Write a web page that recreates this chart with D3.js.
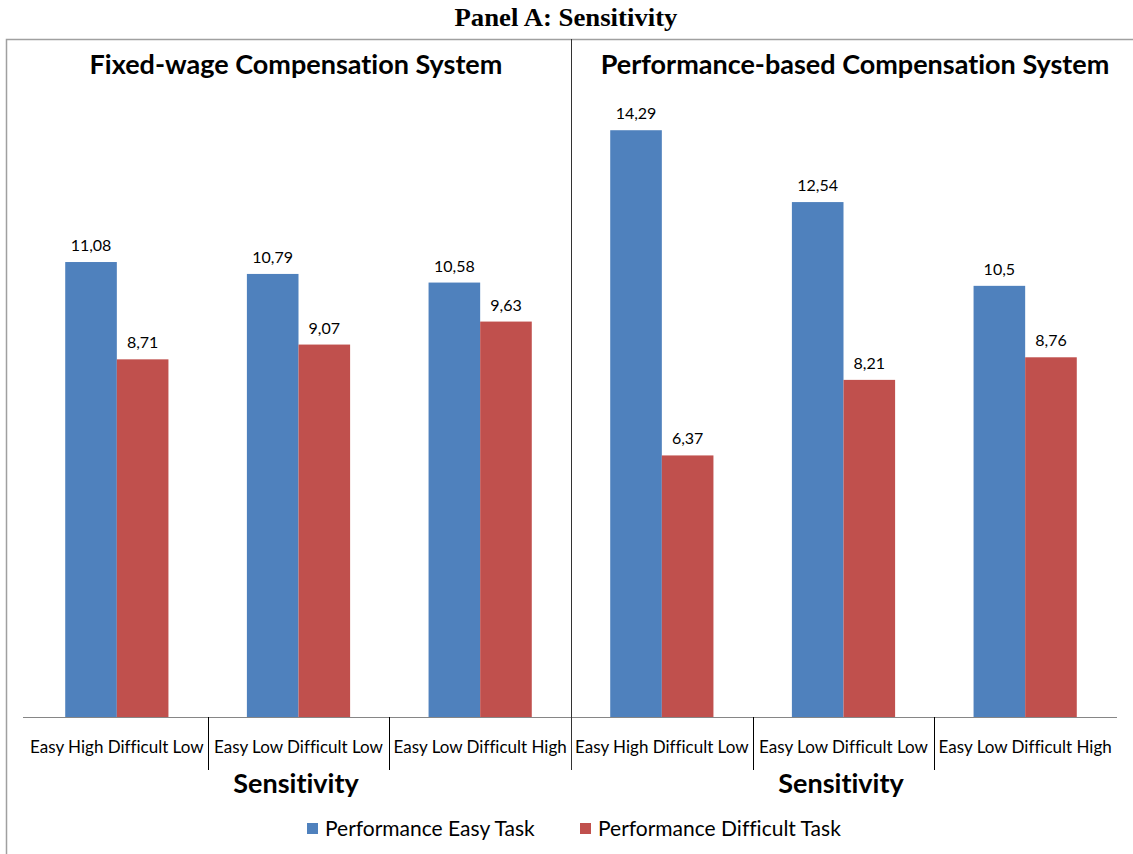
<!DOCTYPE html>
<html>
<head>
<meta charset="utf-8">
<script src="https://cdn.jsdelivr.net/npm/d3@7"></script>
<style>
  body { margin: 0; background: #fff; }
  text { font-family: Lato, "Open Sans", sans-serif; fill: #000; font-variant-ligatures: none; }
</style>
</head>
<body>
<svg width="1133" height="854"></svg>
<script>
const width = 1133;
const height = 854;

const categories = ["Easy High Difficult Low", "Easy Low Difficult Low", "Easy Low Difficult High"];
const series = ["Performance Easy Task", "Performance Difficult Task"];
const colors = ["#4f81bd", "#c0504d"];

const fixedEasy = [11.08, 10.79, 10.58];
const fixedDifficult = [8.71, 9.07, 9.63];
const perfEasy = [14.29, 12.54, 10.5];
const perfDifficult = [6.37, 8.21, 8.76];

const panels = [
  { title: "Fixed-wage Compensation System", easy: fixedEasy, difficult: fixedDifficult, x0: 26, x1: 571, axisStart: 23, titleX: 296, axisTitleX: 296 },
  { title: "Performance-based Compensation System", easy: perfEasy, difficult: perfDifficult, x0: 571, x1: 1116, axisStart: 571, titleX: 855, axisTitleX: 841 }
];

const svg = d3.select("svg");

// outer frame
svg.append("path")
  .attr("d", "M6.5,854 V39.5 H1133")
  .attr("fill", "none")
  .attr("stroke", "#a0a0a0")
  .attr("stroke-width", 1.5);

svg.append("text")
  .attr("x", 566)
  .attr("y", 26)
  .attr("text-anchor", "middle")
  .style("font-family", "'Liberation Serif', 'Times New Roman', serif")
  .style("font-weight", "bold")
  .style("font-size", "26px")
  .attr("textLength", 223)
  .attr("lengthAdjust", "spacingAndGlyphs")
  .text("Panel A: Sensitivity");

const y = d3.scaleLinear().domain([0, 16]).range([717, 60]);
const fmt = v => String(v).replace(".", ",");

panels.forEach(p => {
  const g = svg.append("g");
  const x = d3.scaleBand().domain(categories).range([p.x0, p.x1]);
  const xSub = d3.scaleBand().domain(series).range([0, x.bandwidth()]).paddingOuter(0.76);

  const rows = [];
  categories.forEach((c, i) => {
    rows.push({ cat: c, s: series[0], v: p.easy[i], color: colors[0] });
    rows.push({ cat: c, s: series[1], v: p.difficult[i], color: colors[1] });
  });

  g.selectAll(".bar")
    .data(rows)
    .join("rect")
    .attr("class", "bar")
    .attr("x", d => x(d.cat) + xSub(d.s))
    .attr("y", d => y(d.v))
    .attr("width", xSub.bandwidth())
    .attr("height", d => y(0) - y(d.v))
    .attr("fill", d => d.color);

  g.selectAll(".lbl")
    .data(rows)
    .join("text")
    .attr("class", "lbl")
    .attr("x", d => x(d.cat) + xSub(d.s) + xSub.bandwidth() / 2)
    .attr("y", d => y(d.v) - 11)
    .attr("text-anchor", "middle")
    .style("font-size", "16px")
    .text(d => fmt(d.v));

  // baseline
  g.append("line")
    .attr("x1", p.axisStart).attr("x2", p.x1 + 1)
    .attr("y1", y(0) + 0.5).attr("y2", y(0) + 0.5)
    .attr("stroke", "#868686");

  // category separators
  g.selectAll(".sep")
    .data(categories.slice(1))
    .join("line")
    .attr("class", "sep")
    .attr("x1", d => Math.round(x(d)) + 0.5)
    .attr("x2", d => Math.round(x(d)) + 0.5)
    .attr("y1", y(0))
    .attr("y2", 770)
    .attr("stroke", "#000");

  g.selectAll(".cat")
    .data(categories)
    .join("text")
    .attr("class", "cat")
    .attr("x", d => x(d) + x.bandwidth() / 2)
    .attr("y", 753)
    .attr("text-anchor", "middle")
    .style("font-size", "17px")
    .text(d => d);

  g.append("text")
    .attr("x", p.titleX)
    .attr("y", 74)
    .attr("text-anchor", "middle")
    .style("font-size", "27px")
    .style("font-weight", "bold")
    .text(p.title);

  g.append("text")
    .attr("x", p.axisTitleX)
    .attr("y", 793)
    .attr("text-anchor", "middle")
    .style("font-size", "27px")
    .style("font-weight", "bold")
    .text("Sensitivity");
});

// panel divider
svg.append("line")
  .attr("x1", 571.5).attr("x2", 571.5)
  .attr("y1", 39).attr("y2", 770)
  .attr("stroke", "#333");

// legend
const legendX = [307, 580];
const legend = svg.selectAll(".legend")
  .data(series)
  .join("g")
  .attr("class", "legend")
  .attr("transform", (d, i) => `translate(${legendX[i]},823)`);

legend.append("rect")
  .attr("width", 11)
  .attr("height", 11)
  .attr("fill", (d, i) => colors[i]);

legend.append("text")
  .attr("x", 18)
  .attr("y", 13)
  .style("font-size", "21px")
  .text(d => d);
</script>
</body>
</html>
